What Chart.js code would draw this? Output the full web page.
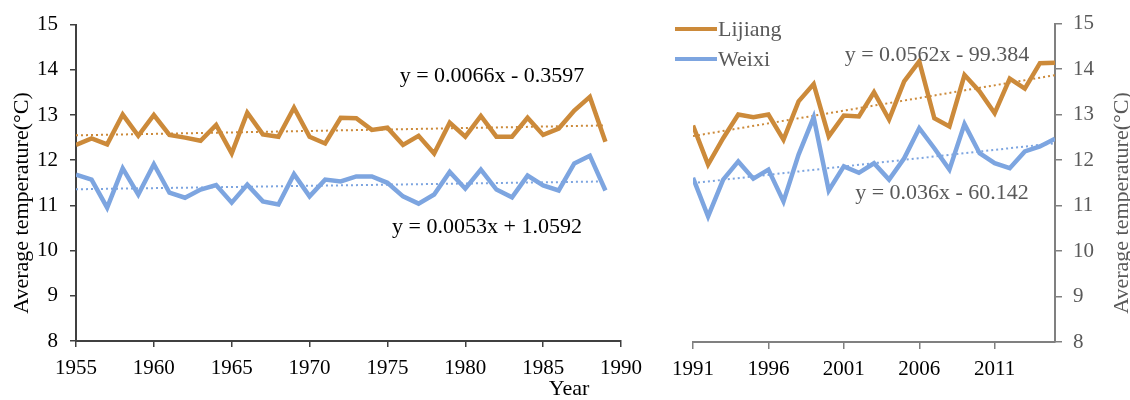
<!DOCTYPE html>
<html><head><meta charset="utf-8">
<script src="https://cdn.jsdelivr.net/npm/chart.js@4/dist/chart.umd.min.js"></script>
<style>
html,body{margin:0;padding:0;background:#fff;}
#wrap{position:relative;width:1130px;height:400px;overflow:hidden;background:#fff;}
#left{position:absolute;left:0;top:0;}
#right{position:absolute;left:640px;top:0;}
</style></head><body>
<div id="wrap">
<canvas id="left" width="660" height="400"></canvas>
<canvas id="right" width="490" height="400"></canvas>
</div>
<script>
// ---- data ----
const seriesNames = ['Lijiang', 'Weixi'];
const yearsA = [1955,1956,1957,1958,1959,1960,1961,1962,1963,1964,1965,1966,1967,1968,1969,1970,1971,1972,1973,1974,1975,1976,1977,1978,1979,1980,1981,1982,1983,1984,1985,1986,1987,1988,1989];
const lijiangA = [12.34,12.48,12.35,13.01,12.54,13.00,12.56,12.50,12.43,12.78,12.15,13.05,12.57,12.52,13.16,12.52,12.37,12.94,12.93,12.67,12.72,12.34,12.54,12.15,12.83,12.52,12.98,12.52,12.52,12.94,12.56,12.70,13.10,13.40,12.41];
const weixiA = [11.68,11.57,10.95,11.82,11.24,11.91,11.28,11.17,11.35,11.45,11.06,11.46,11.09,11.02,11.69,11.20,11.57,11.53,11.64,11.64,11.50,11.20,11.04,11.24,11.74,11.37,11.79,11.35,11.18,11.66,11.44,11.33,11.93,12.10,11.33];
const yearsB = [1991,1992,1993,1994,1995,1996,1997,1998,1999,2000,2001,2002,2003,2004,2005,2006,2007,2008,2009,2010,2011,2012,2013,2014,2015];
const lijiangB = [12.76,11.90,12.48,13.00,12.94,13.00,12.45,13.29,13.67,12.52,12.98,12.96,13.49,12.89,13.73,14.17,12.92,12.74,13.87,13.51,13.03,13.79,13.57,14.13,14.14];
const weixiB = [11.61,10.76,11.57,11.97,11.59,11.79,11.09,12.12,12.94,11.33,11.86,11.72,11.93,11.57,12.04,12.70,12.26,11.79,12.79,12.15,11.93,11.82,12.19,12.30,12.47];
const yTicks = [8,9,10,11,12,13,14,15];
const xTicksA = [1955,1960,1965,1970,1975,1980,1985,1990];
const xTicksB = [1991,1996,2001,2006,2011];
const eqA = ['y = 0.0066x - 0.3597', 'y = 0.0053x + 1.0592'];
const eqB = ['y = 0.0562x - 99.384', 'y = 0.036x - 60.142'];
const yTitle = 'Average temperature(\u00B0C)';
const xTitle = 'Year';

// ---- helpers ----
const ORANGE = '#CC8A3A';
const BLUE = '#7DA5E0';
const FONT = "'Liberation Serif','Times New Roman',serif";

function pts(xs, ys) { return xs.map((x, i) => ({x: x, y: ys[i]})); }
function trend(xs, ys) {
  const n = xs.length;
  let sx = 0, sy = 0, sxx = 0, sxy = 0;
  for (let i = 0; i < n; i++) { sx += xs[i]; sy += ys[i]; sxx += xs[i]*xs[i]; sxy += xs[i]*ys[i]; }
  const b = (n*sxy - sx*sy) / (n*sxx - sx*sx);
  const a = (sy - b*sx) / n;
  return [{x: xs[0], y: a + b*xs[0]}, {x: xs[n-1], y: a + b*xs[n-1]}];
}
function datasets(xs, l, w) {
  return [
    {label: seriesNames[0], data: pts(xs, l), borderColor: ORANGE, borderWidth: 4.5, pointRadius: 0, tension: 0, borderJoinStyle: 'miter'},
    {label: seriesNames[1], data: pts(xs, w), borderColor: BLUE, borderWidth: 4.5, pointRadius: 0, tension: 0, borderJoinStyle: 'miter'},
    {label: 'trend1', data: trend(xs, l), borderColor: ORANGE, borderWidth: 2, borderDash: [2, 3], pointRadius: 0},
    {label: 'trend2', data: trend(xs, w), borderColor: BLUE, borderWidth: 2, borderDash: [2, 3], pointRadius: 0}
  ];
}
function textPlugin(items, legend) {
  return {
    id: 'texts',
    afterDraw(chart) {
      const ctx = chart.ctx;
      items.forEach(t => {
        ctx.save();
        ctx.font = '22px ' + FONT;
        ctx.fillStyle = t.color;
        ctx.textAlign = t.align || 'center';
        ctx.textBaseline = 'middle';
        ctx.translate(t.x, t.y);
        if (t.rot) ctx.rotate(t.rot);
        ctx.fillText(t.text, 0, 0);
        ctx.restore();
      });
      if (legend) {
        [0, 1].forEach(i => {
          const ds = chart.data.datasets[i];
          const y = legend.y + i * legend.gap;
          ctx.save();
          ctx.strokeStyle = ds.borderColor;
          ctx.lineWidth = 4;
          ctx.beginPath();
          ctx.moveTo(legend.x, y);
          ctx.lineTo(legend.x + legend.len, y);
          ctx.stroke();
          ctx.font = '22px ' + FONT;
          ctx.fillStyle = '#595959';
          ctx.textAlign = 'left';
          ctx.textBaseline = 'middle';
          ctx.fillText(ds.label, legend.x + legend.len + 1, y + 1);
          ctx.restore();
        });
      }
    }
  };
}
function axisCfg(opts) {
  return {
    type: 'linear',
    position: opts.position,
    min: opts.min, max: opts.max,
    afterBuildTicks: s => { s.ticks = opts.ticks.map(v => ({value: v})); },
    afterFit: opts.fit,
    ticks: {font: {family: FONT, size: 21}, color: opts.labelColor, padding: opts.padding, autoSkip: false, maxRotation: 0, callback: v => String(v)},
    grid: {display: true, drawOnChartArea: false, drawTicks: true, tickLength: opts.tickLength, color: opts.color, lineWidth: 1.5},
    border: {display: true, color: opts.color, width: 2}
  };
}
const common = {
  responsive: false, animation: false, devicePixelRatio: 1,
  plugins: {legend: {display: false}, tooltip: {enabled: false}},
};

new Chart(document.getElementById('left'), {
  type: 'line',
  data: {datasets: datasets(yearsA, lijiangA, weixiA)},
  options: Object.assign({}, common, {
    layout: {padding: {left: 0, right: 39, top: 22, bottom: 0}},
    scales: {
      x: axisCfg({position: 'bottom', min: 1955, max: 1990, ticks: xTicksA, labelColor: '#000', color: '#404040', padding: 9, tickLength: 6, fit: s => { s.height = 59; }}),
      y: axisCfg({position: 'left', min: 8, max: 15, ticks: yTicks, labelColor: '#000', color: '#404040', padding: 12, tickLength: 6, fit: s => { s.width = 76; }})
    }
  }),
  plugins: [textPlugin([
    {text: yTitle, x: 22, y: 203, rot: -Math.PI/2, color: '#000'},
    {text: xTitle, x: 569, y: 389, color: '#000'},
    {text: eqA[0], x: 492, y: 76, color: '#000'},
    {text: eqA[1], x: 487, y: 227, color: '#000'}
  ])]
});

new Chart(document.getElementById('right'), {
  type: 'line',
  data: {datasets: datasets(yearsB, lijiangB, weixiB)},
  options: Object.assign({}, common, {
    layout: {padding: {left: 53, right: 0, top: 23, bottom: 0}},
    scales: {
      x: axisCfg({position: 'bottom', min: 1991, max: 2015, ticks: xTicksB, labelColor: '#000', color: '#808080', padding: 8, tickLength: 7, fit: s => { s.height = 58; }}),
      y: axisCfg({position: 'right', min: 8, max: 15, ticks: yTicks, labelColor: '#595959', color: '#808080', padding: 11, tickLength: 7, fit: s => { s.width = 75; }})
    }
  }),
  plugins: [textPlugin([
    {text: yTitle, x: 482, y: 203, rot: -Math.PI/2, color: '#595959'},
    {text: eqB[0], x: 297, y: 55, color: '#595959'},
    {text: eqB[1], x: 302, y: 193, color: '#595959'}
  ], {x: 35, y: 29, gap: 30, len: 42})]
});
</script>
</body></html>
